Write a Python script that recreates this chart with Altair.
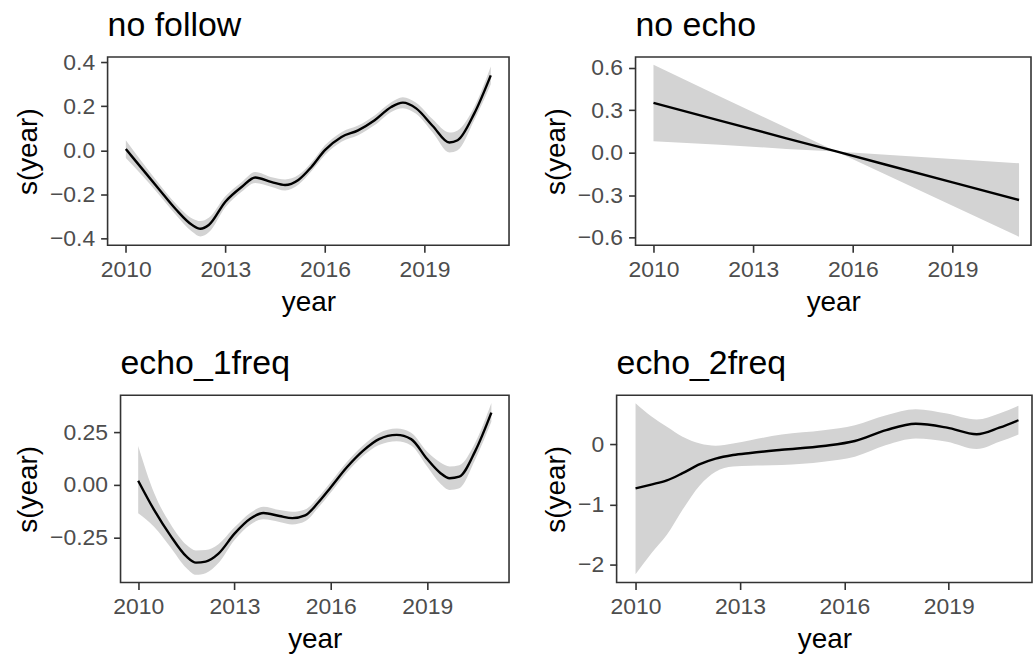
import altair as alt
import pandas as pd

FONT = "Liberation Sans"
BAND = "#D3D3D3"
YEAR_TICKS = [2010, 2013, 2016, 2019]

# --- no follow ---
yrs_nofollow = [2010, 2010.5, 2011, 2011.5, 2012, 2012.25, 2012.5, 2013, 2013.5, 2013.9,
                2014.4, 2014.8, 2015.2, 2015.6, 2016, 2016.5, 2017, 2017.5, 2018, 2018.35,
                2018.75, 2019.25, 2019.75, 2020, 2020.5, 2021]
fit_nofollow = [0.005, -0.086, -0.177, -0.267, -0.34, -0.357, -0.34, -0.234, -0.166, -0.124,
                -0.145, -0.158, -0.135, -0.075, 0.0, 0.06, 0.09, 0.136, 0.196, 0.216,
                0.19, 0.11, 0.035, 0.045, 0.166, 0.34]
lo_nofollow = [-0.035, -0.116, -0.202, -0.292, -0.37, -0.392, -0.373, -0.259, -0.188, -0.149,
               -0.167, -0.183, -0.157, -0.095, -0.022, 0.038, 0.068, 0.114, 0.174, 0.191,
               0.165, 0.08, -0.01, 0.0, 0.136, 0.30]
hi_nofollow = [0.045, -0.056, -0.152, -0.242, -0.31, -0.322, -0.307, -0.209, -0.144, -0.099,
               -0.123, -0.133, -0.113, -0.055, 0.022, 0.082, 0.112, 0.158, 0.218, 0.241,
               0.215, 0.14, 0.08, 0.09, 0.196, 0.38]

# --- no echo (linear term) ---
yrs_noecho = [2010, 2012, 2014, 2015.5, 2017, 2019, 2021]
fit_noecho = [0.352, 0.227, 0.102, 0.009, -0.085, -0.21, -0.334]
lo_noecho = [0.082, 0.057, 0.027, 0.009, -0.155, -0.375, -0.594]
hi_noecho = [0.622, 0.397, 0.177, 0.009, -0.015, -0.045, -0.074]

# --- echo_1freq ---
yrs_echo1 = [2010, 2010.5, 2011, 2011.5, 2011.8, 2012.1, 2012.5, 2013, 2013.5, 2013.9,
             2014.4, 2014.8, 2015.2, 2015.6, 2016, 2016.5, 2017, 2017.5, 2018.05, 2018.5,
             2019, 2019.4, 2019.7, 2020, 2020.5, 2021]
fit_echo1 = [0.02, -0.12, -0.24, -0.34, -0.37, -0.365, -0.327, -0.232, -0.16, -0.134,
             -0.148, -0.158, -0.145, -0.085, -0.011, 0.084, 0.162, 0.218, 0.238, 0.218,
             0.123, 0.058, 0.032, 0.039, 0.162, 0.344]
lo_echo1 = [-0.135, -0.20, -0.295, -0.395, -0.428, -0.42, -0.372, -0.262, -0.188, -0.164,
            -0.176, -0.188, -0.173, -0.11, -0.036, 0.059, 0.137, 0.19, 0.208, 0.188,
            0.088, 0.008, -0.024, -0.016, 0.122, 0.30]
hi_echo1 = [0.185, -0.04, -0.185, -0.285, -0.312, -0.31, -0.282, -0.202, -0.132, -0.104,
            -0.12, -0.128, -0.117, -0.06, 0.014, 0.109, 0.187, 0.246, 0.268, 0.248,
            0.158, 0.108, 0.088, 0.094, 0.202, 0.39]

# --- echo_2freq ---
yrs_echo2 = [2010, 2010.45, 2010.9, 2011.35, 2011.85, 2012.3, 2012.8, 2013.3, 2014.2, 2015.4,
             2016.3, 2017.2, 2018.05, 2018.95, 2019.8, 2020.45, 2021]
fit_echo2 = [-0.735, -0.67, -0.6, -0.48, -0.33, -0.238, -0.177, -0.142, -0.089, -0.025,
             0.058, 0.24, 0.345, 0.28, 0.17, 0.28, 0.405]
lo_echo2 = [-2.17, -1.82, -1.51, -1.09, -0.68, -0.456, -0.37, -0.356, -0.344, -0.289,
            -0.206, -0.011, 0.1, 0.044, -0.078, 0.044, 0.167]
hi_echo2 = [0.69, 0.47, 0.294, 0.128, 0.017, -0.02, 0.017, 0.072, 0.167, 0.239,
            0.322, 0.489, 0.589, 0.517, 0.417, 0.517, 0.645]


def smooth_panel(title, years, fit, lo, hi, ydomain, yticks, yfmt, yextent,
                 width, height, xdomain, title_offset, interp="monotone"):
    df = pd.DataFrame({"year": years, "fit": fit, "lo": lo, "hi": hi})
    xscale = alt.Scale(domain=xdomain, nice=False, zero=False)
    yscale = alt.Scale(domain=ydomain, nice=False, zero=False)
    xaxis = alt.Axis(values=YEAR_TICKS, format="d", title="year")
    yaxis = alt.Axis(values=yticks, format=yfmt, title="s(year)",
                     minExtent=yextent, maxExtent=yextent)
    band = alt.Chart(df).mark_area(color=BAND, interpolate=interp).encode(
        x=alt.X("year:Q", scale=xscale, axis=xaxis),
        y=alt.Y("lo:Q", scale=yscale, axis=yaxis),
        y2="hi:Q",
    )
    line = alt.Chart(df).mark_line(color="black", strokeWidth=2.4, interpolate=interp).encode(
        x=alt.X("year:Q", scale=xscale, axis=xaxis),
        y=alt.Y("fit:Q", scale=yscale, axis=yaxis),
    )
    return alt.layer(band, line).properties(
        width=width, height=height,
        title=alt.TitleParams(title, anchor="start", frame="group", offset=title_offset),
    )


def lead_space():
    # invisible 1px cell that lets each row keep its own left axis width
    return alt.Chart(pd.DataFrame({"v": [0]})).mark_point(opacity=0, size=1).encode(
        x=alt.X("v:Q", axis=None), y=alt.Y("v:Q", axis=None),
    ).properties(width=1, height=1, view=alt.ViewBackground(strokeOpacity=0))


p1 = smooth_panel("no follow", yrs_nofollow, fit_nofollow, lo_nofollow, hi_nofollow,
                  [-0.432, 0.423], [-0.4, -0.2, 0.0, 0.2, 0.4], ".1f", 58,
                  403, 189, [2009.45, 2021.55], 8.5)
p2 = smooth_panel("no echo", yrs_noecho, fit_noecho, lo_noecho, hi_noecho,
                  [-0.654, 0.676], [-0.6, -0.3, 0.0, 0.3, 0.6], ".1f", 58,
                  397, 189, [2009.46, 2021.36], 14, interp="linear")
p3 = smooth_panel("echo_1freq", yrs_echo1, fit_echo1, lo_echo1, hi_echo1,
                  [-0.4645, 0.4267], [-0.25, 0.0, 0.25], ".2f", 71,
                  390, 188, [2009.45, 2021.55], 14)
p4 = smooth_panel("echo_2freq", yrs_echo2, fit_echo2, lo_echo2, hi_echo2,
                  [-2.306, 0.822], [-2, -1, 0], "d", 39,
                  417, 188, [2009.456, 2021.39], 14)

top_row = alt.hconcat(alt.hconcat(lead_space(), p1, spacing=0), p2, spacing=32)
bottom_row = alt.hconcat(alt.hconcat(lead_space(), p3, spacing=0), p4, spacing=32)

chart = alt.vconcat(top_row, bottom_row, spacing=29.5).properties(
    padding={"left": 13, "top": 6, "right": 0, "bottom": 0},
    background="white",
).configure_view(
    stroke="#333333", strokeWidth=1.6,
).configure_axis(
    domain=False, grid=False,
    tickColor="#333333", tickWidth=1.6, tickSize=7,
    labelFont=FONT, labelFontSize=23, labelColor="#4D4D4D", labelPadding=6,
    titleFont=FONT, titleFontSize=28, titleColor="black", titleFontWeight="normal",
    titlePadding=7,
).configure_title(
    font=FONT, fontSize=34, fontWeight="normal", color="black",
    anchor="start", frame="group", baseline="alphabetic",
)

chart.save("out.html", embed_options={"renderer": "svg", "actions": False})
